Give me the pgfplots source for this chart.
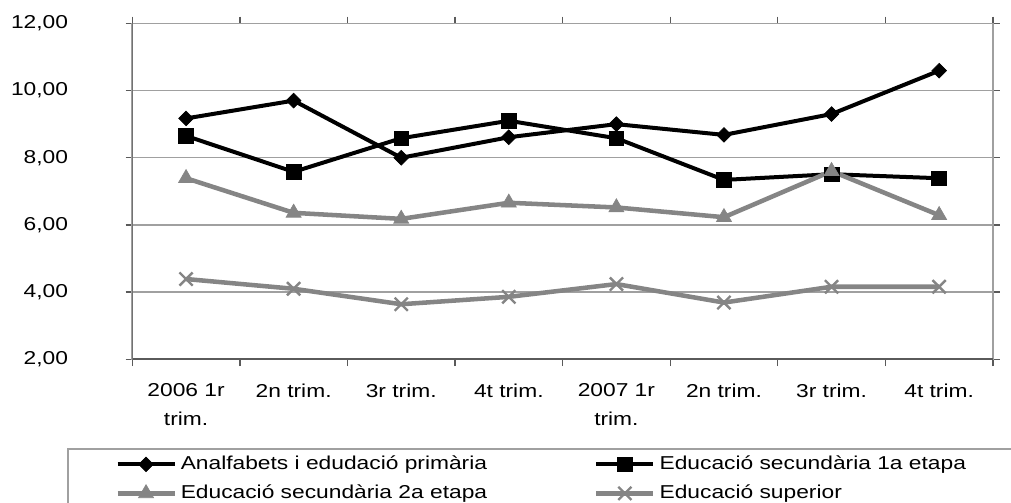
\documentclass[border=0pt]{standalone}
\usepackage{fontspec}
\setmainfont[FakeStretch=1.22]{Liberation Sans}
\usepackage{pgfplots}
\pgfplotsset{compat=1.18}
\definecolor{sgray}{HTML}{858585}
\definecolor{gridc}{HTML}{A0A0A0}
\definecolor{axc}{HTML}{5A5A5A}
\begin{document}
\begin{tikzpicture}
\path[use as bounding box] (0,0) rectangle (758.25pt,-377.25pt);
\begin{axis}[
  at={(99.2pt,-269.5pt)}, anchor=south west,
  scale only axis, width=645.5pt, height=252pt,
  xmin=-0.5, xmax=7.5, ymin=2, ymax=12,
  ytick={2,4,6,8,10,12},
  xtick={-0.5,0.5,...,7.5}, xticklabels={},
  extra x ticks={0,1,2,3,4,5,6,7},
  extra x tick labels={{2006 1r\\trim.},{2n trim.},{3r trim.},{4t trim.},{2007 1r\\trim.},{2n trim.},{3r trim.},{4t trim.}},
  extra x tick style={major tick length=0pt, grid=none},
  x tick label style={align=center, anchor=north, inner sep=0pt, font=\fontsize{14}{21.75}\selectfont},
  y tick label style={anchor=east, inner sep=0pt, font=\fontsize{14}{16}\selectfont},
  yticklabel shift=43pt,
  xticklabel shift=18pt,
  /pgf/number format/fixed, /pgf/number format/fixed zerofill,
  /pgf/number format/precision=2, /pgf/number format/use comma,
  /pgf/number format/assume math mode=true,
  tick align=outside, major tick length=5pt,
  tick style={axc, line width=1pt},
  ymajorgrids, grid style={gridc, line width=1.1pt},
  axis line style={gridc, line width=1.2pt},
  legend columns=2,
  legend cell align=left,
  legend style={at={(-0.0201,-0.285)}, anchor=north west, draw=none, fill=none,
    inner sep=0pt, column sep=0pt, row sep=8.25pt,
    font=\fontsize{14}{16}\selectfont,
    nodes={inner sep=0pt, text height=10.5pt, text depth=3pt}},
  legend image code/.code={\draw[mark repeat=2, mark phase=2, #1] plot coordinates {(0pt,0pt) (21.4pt,0pt) (42.75pt,0pt)};},
]
\addplot[black, line width=3pt, mark=square*, mark size=3.9pt, mark options={rotate=45, solid, line width=0.5pt}]
  coordinates {(0,9.17) (1,9.70) (2,8.00) (3,8.61) (4,9.00) (5,8.68) (6,9.30) (7,10.59)};
\addlegendentry{\hspace{3pt}\makebox[310pt][l]{Analfabets i edudació primària}}
\addplot[black, line width=3pt, mark=square*, mark size=5.5pt, mark options={solid, line width=0.5pt}]
  coordinates {(0,8.65) (1,7.58) (2,8.58) (3,9.10) (4,8.58) (5,7.34) (6,7.51) (7,7.39)};
\addlegendentry{\hspace{3pt}Educació secundària 1a etapa}
\addplot[sgray, line width=3.4pt, mark=triangle*, mark size=6.5pt, mark options={solid, line width=0.5pt}]
  coordinates {(0,7.39) (1,6.36) (2,6.18) (3,6.66) (4,6.52) (5,6.23) (6,7.60) (7,6.29)};
\addlegendentry{\hspace{3pt}\makebox[310pt][l]{Educació secundària 2a etapa}}
\addplot[sgray, line width=3.4pt, mark=x, mark size=7pt, mark options={solid, line width=1.8pt}]
  coordinates {(0,4.39) (1,4.10) (2,3.64) (3,3.86) (4,4.24) (5,3.69) (6,4.16) (7,4.16)};
\addlegendentry{\hspace{3pt}Educació superior}
\draw[axc, line width=1.5pt] (rel axis cs:0,1) -- (rel axis cs:0,0) -- (rel axis cs:1,0);
\end{axis}
\draw[gridc, line width=1.2pt] (51pt,-336.75pt) rectangle (790pt,-400pt);
\end{tikzpicture}
\end{document}
